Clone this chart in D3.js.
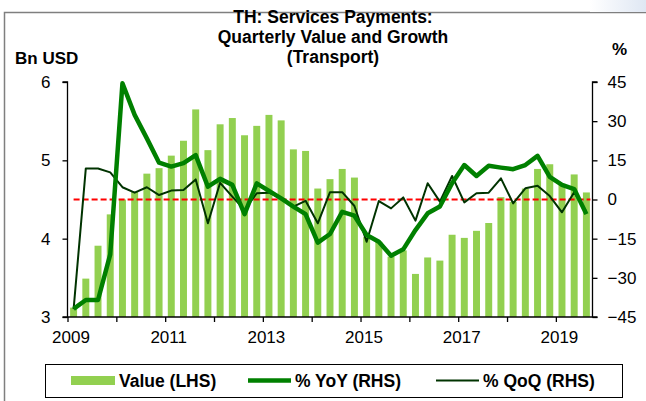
<!DOCTYPE html>
<html>
<head>
<meta charset="utf-8">
<script src="https://cdn.jsdelivr.net/npm/d3@7"></script>
<style>
  body { margin: 0; background: #fff; }
  svg { display: block; font-family: "Liberation Sans", Arial, sans-serif; }
</style>
</head>
<body>
<svg id="chart" width="646" height="401"></svg>
<script>
// quarterly data 2009Q1 - 2019Q3
const quarters = d3.range(43).map(i => `${2009 + Math.floor(i / 4)}Q${i % 4 + 1}`);
const values = [3.12, 3.49, 3.91, 4.31, 4.50, 4.60, 4.83, 4.90, 5.06, 5.25, 5.65, 5.13,
  5.46, 5.54, 5.32, 5.44, 5.58, 5.51, 5.14, 5.12, 4.64, 4.76, 4.89, 4.78,
  4.02, 3.96, 3.77, 3.85, 3.55, 3.76, 3.72, 4.05, 4.01, 4.10, 4.20, 4.53,
  4.47, 4.64, 4.89, 4.95, 4.70, 4.82, 4.59];
const yoy = [-41.9, -38.5, -38.5, -21.0, 44.5, 32.4, 23.4, 14.1, 12.6, 13.9, 17.0, 4.9,
  7.9, 5.6, -5.6, 6.2, 3.3, 0.4, -2.7, -5.6, -16.5, -13.2, -4.7, -6.2,
  -13.6, -16.2, -21.5, -19.1, -11.7, -5.3, -2.7, 6.2, 13.2, 9.0, 12.9, 12.2,
  11.6, 13.2, 16.7, 8.7, 5.6, 4.0, -5.6];
const qoq = [-42.0, 11.9, 11.9, 10.4, 4.7, 2.6, 4.7, 1.7, 3.4, 3.6, 7.7, -9.1,
  6.4, 1.1, -4.0, 2.4, 2.6, 0.4, -2.7, -0.5, -9.1, 2.8, 2.8, -2.5,
  -16.2, -0.6, -3.4, 0.8, -8.1, 6.2, -0.8, 9.0, -1.1, 2.4, 2.6, 8.1,
  -1.5, 4.3, 5.3, 1.3, -4.9, 2.8, -4.7];
const leftTicks = [3, 4, 5, 6];
const rightTicks = [-45, -30, -15, 0, 15, 30, 45];
const yearTicks = d3.range(2009, 2020);
const yearLabels = [2009, 2011, 2013, 2015, 2017, 2019];

const svg = d3.select("#chart");
const plotLeft = 67.5, plotRight = 592.5, plotTop = 82, plotBottom = 317;

// frame
svg.append("path").attr("d", `M4.5,401V12.5H646`).attr("fill", "none").attr("stroke", "#7f7f7f").attr("stroke-width", 1.5);
const grad = svg.append("defs").append("linearGradient").attr("id", "corner").attr("x1", 0).attr("x2", 1).attr("y1", 0).attr("y2", 0);
grad.append("stop").attr("offset", "0%").attr("stop-color", "#fff");
grad.append("stop").attr("offset", "100%").attr("stop-color", "#dfe7f3");
svg.append("rect").attr("x", 590).attr("y", 0).attr("width", 56).attr("height", 12).attr("fill", "url(#corner)");

const x = d3.scaleBand().domain(quarters).range([plotLeft, plotRight]).paddingInner(0.43).paddingOuter(0.2);
const xt = d3.scaleLinear().domain([2009, 2009 + 43 / 4]).range([plotLeft, plotRight]);
const yL = d3.scaleLinear().domain([3, 6]).range([plotBottom, plotTop]);
const yR = d3.scaleLinear().domain([-45, 45]).range([plotBottom, plotTop]);
const cx = i => xt(2009 + (i + 0.5) / 4);

// bars
svg.append("g").selectAll("rect")
  .data(values)
  .enter().append("rect")
  .attr("x", (d, i) => cx(i) - x.bandwidth() / 2)
  .attr("y", d => yL(d))
  .attr("width", x.bandwidth())
  .attr("height", d => yL(3) - yL(d))
  .attr("fill", "#92d050");

// zero line (RHS)
svg.append("line")
  .attr("x1", cx(0)).attr("x2", cx(42) + 4)
  .attr("y1", yR(0)).attr("y2", yR(0))
  .attr("stroke", "#ff0000").attr("stroke-width", 2).attr("stroke-dasharray", "6,3");

const line = d3.line().x((d, i) => cx(i)).y(d => yR(d));
svg.append("path").datum(qoq).attr("d", line)
  .attr("fill", "none").attr("stroke", "#003300").attr("stroke-width", 2).attr("stroke-linejoin", "round");
svg.append("path").datum(yoy).attr("d", line)
  .attr("fill", "none").attr("stroke", "#008000").attr("stroke-width", 4.5).attr("stroke-linejoin", "round");

// axes
const axL = svg.append("g").attr("transform", `translate(${plotLeft},0)`)
  .call(d3.axisLeft(yL).tickValues(leftTicks).tickSize(5).tickPadding(12).tickFormat(d3.format("d")));
const axR = svg.append("g").attr("transform", `translate(${plotRight},0)`)
  .call(d3.axisRight(yR).tickValues(rightTicks).tickSize(5).tickPadding(10).tickFormat(d3.format("d")));
const axX = svg.append("g").attr("transform", `translate(0,${plotBottom})`)
  .call(d3.axisBottom(xt).tickValues(yearTicks).tickSize(5).tickPadding(9)
    .tickFormat(d => yearLabels.includes(d) ? d : ""));
[axL, axR, axX].forEach(a => {
  a.select(".domain").attr("stroke", "#000").attr("stroke-width", 1.3);
  a.selectAll(".tick line").attr("stroke", "#000").attr("stroke-width", 1.3);
  a.selectAll("text").attr("font-size", 17).attr("fill", "#000").attr("font-family", "Liberation Sans, Arial, sans-serif");
});
axX.selectAll("text").attr("dx", 3);
axL.select(".domain").attr("d", `M-5,${plotBottom}H0V${plotTop}H-5`);
axR.select(".domain").attr("d", `M5,${plotBottom}H0V${plotTop}H5`);
axX.select(".domain").attr("d", `M${plotLeft},0H${plotRight}`);

// titles
const title = ["TH: Services Payments:", "Quarterly Value and Growth", "(Transport)"];
svg.append("g").selectAll("text").data(title).enter().append("text")
  .attr("x", 333).attr("y", (d, i) => 23 + i * 20)
  .attr("text-anchor", "middle").attr("font-size", 17.5).attr("font-weight", "bold")
  .text(d => d);
svg.append("text").attr("x", 15).attr("y", 64).attr("font-size", 17).attr("font-weight", "bold").text("Bn USD");
svg.append("text").attr("x", 612).attr("y", 55).attr("font-size", 17).attr("font-weight", "bold").text("%");

// legend
const lg = svg.append("g");
lg.append("rect").attr("x", 45.5).attr("y", 364.5).attr("width", 577).attr("height", 33)
  .attr("fill", "#fff").attr("stroke", "#000").attr("stroke-width", 1);
lg.append("rect").attr("x", 71).attr("y", 376).attr("width", 44).attr("height", 9).attr("fill", "#92d050");
lg.append("line").attr("x1", 248).attr("x2", 291).attr("y1", 380.5).attr("y2", 380.5).attr("stroke", "#008000").attr("stroke-width", 4.5);
lg.append("line").attr("x1", 436).attr("x2", 479).attr("y1", 380.5).attr("y2", 380.5).attr("stroke", "#003300").attr("stroke-width", 2);
const legendText = [[119, "Value (LHS)"], [295, "% YoY (RHS)"], [483, "% QoQ (RHS)"]];
lg.selectAll("text.lt").data(legendText).enter().append("text")
  .attr("class", "lt").attr("x", d => d[0]).attr("y", 386.5)
  .attr("font-size", 17.5).attr("font-weight", "bold").text(d => d[1]);
</script>
</body>
</html>
